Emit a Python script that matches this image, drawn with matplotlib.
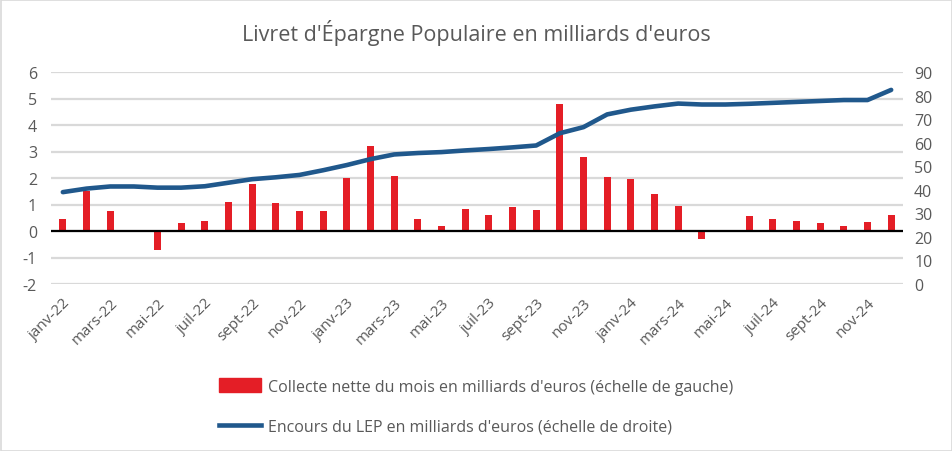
import matplotlib
matplotlib.use("Agg")
import matplotlib.pyplot as plt
from matplotlib.patches import Rectangle
from matplotlib.lines import Line2D
import numpy as np

plt.rcParams['font.family'] = ['Open Sans', 'DejaVu Sans']
plt.rcParams['axes.unicode_minus'] = False

# Data
months = ["janv-22", "févr-22", "mars-22", "avr-22", "mai-22", "juin-22", "juil-22", "août-22",
          "sept-22", "oct-22", "nov-22", "déc-22",
          "janv-23", "févr-23", "mars-23", "avr-23", "mai-23", "juin-23", "juil-23", "août-23",
          "sept-23", "oct-23", "nov-23", "déc-23",
          "janv-24", "févr-24", "mars-24", "avr-24", "mai-24", "juin-24", "juil-24", "août-24",
          "sept-24", "oct-24", "nov-24", "déc-24"]
collecte = [0.45, 1.52, 0.76, 0.0, -0.72, 0.30, 0.37, 1.10, 1.76, 1.06, 0.76, 0.76,
            1.99, 3.20, 2.08, 0.45, 0.18, 0.83, 0.62, 0.91, 0.79, 4.78, 2.80, 2.02,
            1.95, 1.41, 0.96, -0.30, 0.0, 0.56, 0.45, 0.37, 0.30, 0.18, 0.33, 0.60]
encours = [39.0, 40.5, 41.4, 41.4, 40.9, 40.9, 41.5, 43.0, 44.5, 45.3, 46.3, 48.3,
           50.5, 53.0, 55.0, 55.6, 56.0, 56.7, 57.3, 58.0, 58.8, 64.0, 66.6, 72.0,
           74.0, 75.4, 76.6, 76.2, 76.2, 76.5, 76.9, 77.3, 77.7, 78.1, 78.1, 82.4]
tick_every = 2
bar_label = "Collecte nette du mois en milliards d'euros (échelle de gauche)"
line_label = "Encours du LEP en milliards d'euros (échelle de droite)"
title = "Livret d'Épargne Populaire en milliards d'euros"

RED = "#e41e26"
BLUE = "#20588c"
GRID = "#d9d9d9"
TXT = "#595959"

fig = plt.figure(figsize=(9.53, 4.52), dpi=100)
ax = fig.add_axes([51 / 953, (452 - 285) / 452, 852 / 953, 212 / 452])
x = np.arange(len(months))

ax.bar(x, collecte, width=0.3, color=RED, zorder=3)
ax.set_ylim(-2, 6)
ax.set_yticks(range(-2, 7))
ax.set_xlim(-0.5, len(months) - 0.5)
ax.grid(axis='y', color=GRID, linewidth=1.6, zorder=0)
ax.axhline(0, color='black', linewidth=1.6, zorder=4)
for s in ax.spines.values():
    s.set_visible(False)
ax.tick_params(axis='both', length=0, colors=TXT, labelsize=11.5)
ax.tick_params(axis='y', pad=10)
ax.set_xticks(x[::tick_every])
ax.set_xticklabels(months[::tick_every], rotation=45, ha='right',
                   rotation_mode='anchor', fontsize=11, color=TXT)
ax.tick_params(axis='x', pad=8)

ax2 = ax.twinx()
ax2.plot(x, encours, color=BLUE, linewidth=3.3, solid_capstyle='round',
         solid_joinstyle='round', zorder=5)
ax2.set_ylim(0, 90)
ax2.set_yticks(range(0, 91, 10))
for s in ax2.spines.values():
    s.set_visible(False)
ax2.tick_params(axis='y', length=0, colors=TXT, labelsize=11.5, pad=8)

fig.text(0.5, 1 - 33 / 452, title, ha='center', va='center', fontsize=15.5, color=TXT)

handles = [Rectangle((0, 0), 1, 1, color=RED),
           Line2D([0], [0], color=BLUE, linewidth=3.3)]
fig.legend(handles, [bar_label, line_label], loc='upper left',
           bbox_to_anchor=(205 / 953, 1 - 365 / 452), frameon=False,
           fontsize=11.5, labelcolor=TXT, handlelength=2.6, handleheight=0.9,
           labelspacing=1.5, handletextpad=0.45)

fig.patches.append(Rectangle((0.001, 0.001), 0.998, 0.997, transform=fig.transFigure,
                             fill=False, edgecolor=GRID, linewidth=1.2))

fig.savefig("out.png", dpi=100)
